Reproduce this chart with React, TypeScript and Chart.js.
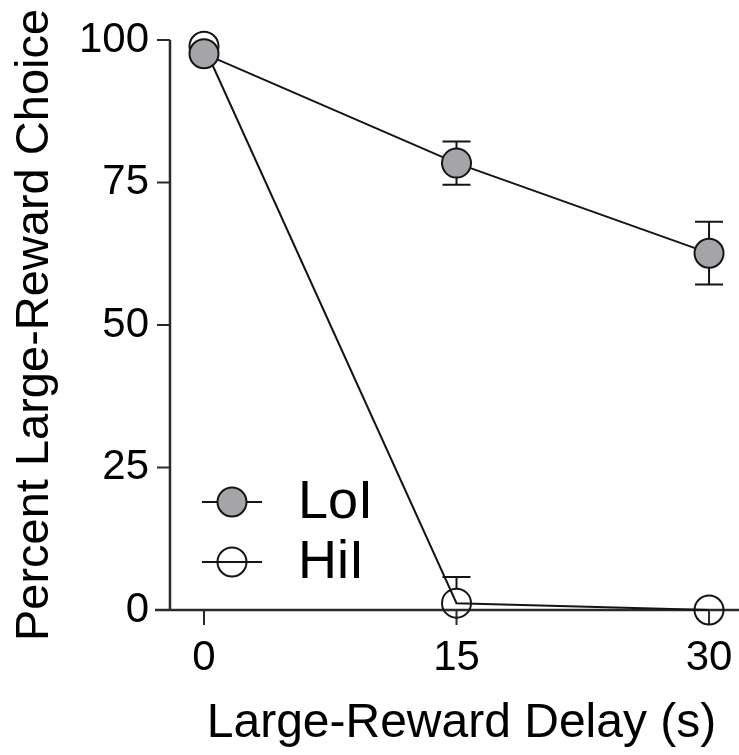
import React, { useEffect, useRef } from "react";
import { Chart, registerables } from "chart.js";

Chart.register(...registerables);

// ---- data ----
const delays = [0, 15, 30];
const loiMean = [97.6, 78.4, 62.6];
const loiErr = [0, 3.8, 5.5];
const hiiMean = [98.9, 1.2, 0];
const hiiErr = [0, 4.6, 0];
const seriesNames = ["LoI", "HiI"];
const xTickValues = [0, 15, 30];
const yTickValues = [0, 25, 50, 75, 100];
const xTitle = "Large-Reward Delay (s)";
const yTitle = "Percent Large-Reward Choice";

// ---- style ----
const FONT = "'Liberation Sans', Arial, Helvetica, sans-serif";
const INK = "#141414";
const AXIS = "#2a2a2a";
const GRAY = "#a5a4a9";
const R = 14.5;
const Y_AXIS_AT = -2.02;

const errs = [loiErr, hiiErr];

const decorPlugin = {
  id: "decor",
  beforeDatasetsDraw(chart: any) {
    const ctx = chart.ctx;
    const xs = chart.scales.x;
    const ys = chart.scales.y;
    const area = chart.chartArea;
    ctx.save();
    ctx.strokeStyle = AXIS;
    ctx.lineWidth = 2.5;
    const y0 = ys.getPixelForValue(0);
    const xa = xs.getPixelForValue(Y_AXIS_AT);
    ctx.beginPath();
    ctx.moveTo(area.left, y0);
    ctx.lineTo(area.right, y0);
    ctx.stroke();
    ctx.beginPath();
    ctx.moveTo(xa, ys.getPixelForValue(100));
    ctx.lineTo(xa, y0);
    ctx.stroke();
    ctx.lineWidth = 2;
    for (const v of yTickValues) {
      const py = ys.getPixelForValue(v);
      ctx.beginPath();
      ctx.moveTo(xa - 13, py);
      ctx.lineTo(xa, py);
      ctx.stroke();
    }
    for (const v of xTickValues) {
      const px = xs.getPixelForValue(v);
      ctx.beginPath();
      ctx.moveTo(px, y0);
      ctx.lineTo(px, y0 + 15);
      ctx.stroke();
    }
    ctx.restore();

    // error bars
    ctx.save();
    ctx.beginPath();
    ctx.rect(area.left, area.top - 60, area.right - area.left, area.bottom - area.top + 60);
    ctx.clip();
    ctx.strokeStyle = INK;
    ctx.lineWidth = 2;
    chart.data.datasets.forEach((ds: any, di: number) => {
      ds.data.forEach((pt: any, i: number) => {
        const e = errs[di][i];
        if (!e) return;
        const px = xs.getPixelForValue(pt.x);
        const cy = ys.getPixelForValue(pt.y);
        const top = ys.getPixelForValue(pt.y + e);
        const bot = ys.getPixelForValue(pt.y - e);
        ctx.beginPath();
        if (top < cy - R) {
          ctx.moveTo(px, cy - R);
          ctx.lineTo(px, top);
          ctx.moveTo(px - 14, top);
          ctx.lineTo(px + 14, top);
        }
        if (bot > cy + R) {
          ctx.moveTo(px, cy + R);
          ctx.lineTo(px, bot);
          ctx.moveTo(px - 14, bot);
          ctx.lineTo(px + 14, bot);
        }
        ctx.stroke();
      });
    });
    ctx.restore();
  },
  afterDraw(chart: any) {
    const ctx = chart.ctx;
    const area = chart.chartArea;
    const xs = chart.scales.x;
    ctx.save();
    // legend
    chart.data.datasets.forEach((ds: any, i: number) => {
      const cx = area.left + 77;
      const cy = area.top + 462 + i * 60;
      ctx.strokeStyle = INK;
      ctx.lineWidth = 2;
      ctx.beginPath();
      ctx.moveTo(cx - 30, cy);
      ctx.lineTo(cx + 30, cy);
      ctx.stroke();
      ctx.beginPath();
      ctx.arc(cx, cy, R, 0, Math.PI * 2);
      ctx.fillStyle = ds.pointBackgroundColor;
      ctx.fill();
      ctx.stroke();
      ctx.fillStyle = "#000";
      ctx.font = `54px ${FONT}`;
      ctx.textBaseline = "middle";
      ctx.textAlign = "left";
      ctx.fillText(ds.label, area.left + 143, cy + 1);
    });
    // x axis title
    const tx =
      (xs.getPixelForValue(xTickValues[0]) + xs.getPixelForValue(xTickValues[xTickValues.length - 1])) / 2 + 5;
    ctx.fillStyle = "#000";
    ctx.font = `48px ${FONT}`;
    ctx.textAlign = "center";
    ctx.textBaseline = "middle";
    ctx.fillText(xTitle, tx, xs.bottom - 31);
    ctx.restore();
  },
};

export default function App() {
  const ref = useRef<HTMLCanvasElement>(null);
  useEffect(() => {
    if (!ref.current) return;
    const chart = new Chart(ref.current, {
      type: "line",
      data: {
        datasets: [
          {
            label: seriesNames[0],
            data: delays.map((d, i) => ({ x: d, y: loiMean[i] })),
            borderColor: INK,
            borderWidth: 2,
            pointRadius: R,
            pointHoverRadius: R,
            pointBorderWidth: 2,
            pointBorderColor: INK,
            pointBackgroundColor: GRAY,
            backgroundColor: GRAY,
            clip: false as any,
          },
          {
            label: seriesNames[1],
            data: delays.map((d, i) => ({ x: d, y: hiiMean[i] })),
            borderColor: INK,
            borderWidth: 2,
            pointRadius: R,
            pointHoverRadius: R,
            pointBorderWidth: 2,
            pointBorderColor: INK,
            pointBackgroundColor: "rgba(0,0,0,0)",
            backgroundColor: "rgba(0,0,0,0)",
            clip: false as any,
          },
        ],
      },
      options: {
        animation: false,
        responsive: false,
        maintainAspectRatio: false,
        events: [],
        layout: { autoPadding: false, padding: { top: 40, left: 0, right: 0, bottom: 0 } },
        plugins: { legend: { display: false }, tooltip: { enabled: false } },
        scales: {
          x: {
            type: "linear",
            min: -2.91,
            max: 31.78,
            grid: { display: false, drawTicks: true, tickLength: 23 },
            border: { display: false },
            afterBuildTicks: (s: any) => {
              s.ticks = xTickValues.map((v) => ({ value: v }));
            },
            afterFit: (s: any) => {
              s.height = 145;
              s.paddingLeft = 0;
              s.paddingRight = 0;
            },
            ticks: {
              font: { size: 42, family: FONT },
              color: "#000",
              padding: 0,
              maxRotation: 0,
              autoSkip: false,
            },
            title: { display: false, text: xTitle },
          },
          y: {
            type: "linear",
            min: 0,
            max: 100,
            grid: { display: false, drawTicks: false },
            border: { display: false },
            afterBuildTicks: (s: any) => {
              s.ticks = yTickValues.map((v) => ({ value: v }));
            },
            afterFit: (s: any) => {
              s.width = 155;
              s.paddingTop = 0;
              s.paddingBottom = 0;
            },
            ticks: {
              font: { size: 42, family: FONT },
              color: "#000",
              padding: 6,
            },
            title: {
              display: true,
              text: yTitle,
              font: { size: 47, family: FONT },
              color: "#000",
              padding: { top: 7, bottom: 0 },
            },
          },
        },
      },
      plugins: [decorPlugin],
    });
    return () => chart.destroy();
  }, []);
  return (
    <div style={{ position: "fixed", left: 0, top: 0, width: 739, height: 755, background: "#fff" }}>
      <canvas ref={ref} width={739} height={755} style={{ display: "block" }} />
    </div>
  );
}
